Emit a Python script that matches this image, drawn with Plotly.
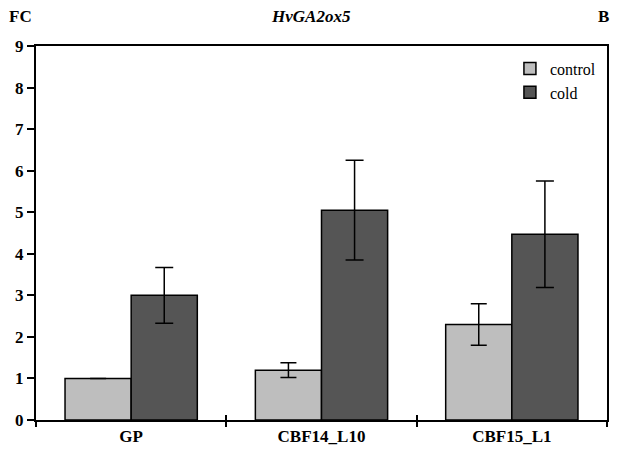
import plotly.graph_objects as go

categories = ["GP", "CBF14_L10", "CBF15_L1"]
control_vals = [1.0, 1.2, 2.3]
control_err = [0.0, 0.18, 0.5]
cold_vals = [3.0, 5.05, 4.47]
cold_err = [0.67, 1.2, 1.28]
series_names = ["control", "cold"]
ytick_vals = list(range(0, 10))

FONT = "'Times New Roman', 'Liberation Serif', serif"
xpos = list(range(len(categories)))
bounds = [i - 0.5 for i in range(len(categories) + 1)]

fig = go.Figure()
fig.add_trace(go.Bar(
    x=xpos, y=control_vals, name=series_names[0],
    marker=dict(color="#bebebe", line=dict(color="black", width=1.5)),
    error_y=dict(type="data", array=control_err, color="black", thickness=1.5, width=8,
                 visible=True),
))
fig.add_trace(go.Bar(
    x=xpos, y=cold_vals, name=series_names[1],
    marker=dict(color="#555555", line=dict(color="black", width=1.5)),
    error_y=dict(type="data", array=cold_err, color="black", thickness=1.5, width=9),
))
# invisible helper trace for the overlay axis carrying inside ticks
fig.add_trace(go.Scatter(x=[bounds[0], bounds[-1]], y=[0, 0], xaxis="x2", mode="markers",
                         marker=dict(opacity=0), showlegend=False, hoverinfo="skip"))

# page body has an 8px default margin; compensate so the plot lands where the reference has it
fig.update_layout(
    width=622, height=453,
    margin=dict(l=28, r=23, t=38, b=41, autoexpand=False),
    paper_bgcolor="white", plot_bgcolor="white",
    barmode="group", bargap=0.305, bargroupgap=0,
    font=dict(family=FONT, color="black"),
    showlegend=True,
    legend=dict(x=0.83, y=0.985, xanchor="left", yanchor="top",
                font=dict(family=FONT, size=16, color="black"),
                bgcolor="rgba(0,0,0,0)", tracegroupgap=0, itemwidth=30),
    xaxis=dict(range=[bounds[0], bounds[-1]], tickvals=xpos, ticktext=categories,
               ticks="", showgrid=False, zeroline=False, automargin=False,
               showline=True, linecolor="black", linewidth=2, mirror=True,
               tickfont=dict(family=FONT, size=17, color="black", weight="bold"),
               minor=dict(tickvals=bounds, ticks="outside", ticklen=5, tickwidth=2, tickcolor="black")),
    xaxis2=dict(range=[bounds[0], bounds[-1]], overlaying="x", anchor="y", side="bottom",
                tickvals=bounds, ticks="inside", ticklen=5, tickwidth=2, tickcolor="black",
                showticklabels=False, showgrid=False, zeroline=False, showline=False),
    yaxis=dict(range=[0, 9], tickvals=ytick_vals, ticks="outside", ticklen=7, tickwidth=2,
               tickcolor="black", showgrid=False, zeroline=False, automargin=False,
               showline=True, linecolor="black", linewidth=2, mirror=True,
               tickfont=dict(family=FONT, size=17, color="black", weight="bold")),
    annotations=[
        dict(text="<b>FC</b>", xref="paper", yref="paper", x=-0.027, y=1.078,
             xanchor="center", yanchor="middle", showarrow=False,
             font=dict(family=FONT, size=17, color="black")),
        dict(text="<b><i>HvGA2ox5</i></b>", xref="paper", yref="paper", x=0.482, y=1.078,
             xanchor="center", yanchor="middle", showarrow=False,
             font=dict(family=FONT, size=17, color="black")),
        dict(text="<b>B</b>", xref="paper", yref="paper", x=0.993, y=1.078,
             xanchor="center", yanchor="middle", showarrow=False,
             font=dict(family=FONT, size=17, color="black")),
    ],
)

fig.write_html("out.html")
